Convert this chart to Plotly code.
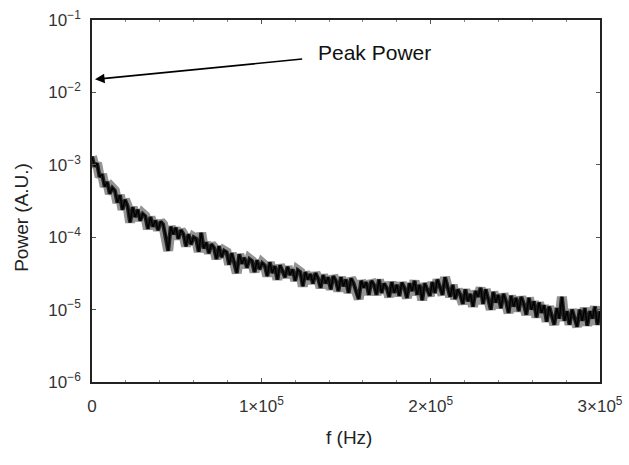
import math
import plotly.graph_objects as go

# frequency grid (Hz), step 1.5 kHz
f_step = 1500
freq = [i * f_step for i in range(201)]

# power values, in units of 1e-5 (A.U.)
power_e5 = [
    130, 95, 105, 68, 74, 50, 58, 40, 48, 44,
    30, 38, 24, 33, 27, 16, 26, 19, 24, 17,
    21, 19.5, 13, 19, 14, 17, 12.5, 16.5, 15, 10.5,
    6.5, 14, 11, 13.5, 9.5, 12.5, 11, 7.5, 11, 8,
    10, 9.5, 6.3, 11.5, 7, 8.5, 6, 8, 7.2, 5,
    7.5, 5.3, 6.5, 6.2, 4.2, 6, 4.6, 3.2, 5.8, 4.3,
    5.2, 3.8, 5, 4.7, 3.3, 4.8, 3.6, 4.4, 4.1, 2.9,
    4.5, 3.2, 4.0, 2.6, 4.1, 3.5, 2.8, 3.9, 3.0, 3.6,
    2.5, 3.5, 3.3, 2.1, 3.3, 2.6, 3.1, 2.3, 3.2, 2.7,
    2.0, 3.0, 2.3, 2.8, 1.9, 2.9, 2.5, 1.8, 2.8, 2.1,
    2.6, 1.7, 2.7, 2.3, 1.75, 1.4, 2.5, 2.0, 2.4, 1.6,
    2.5, 2.2, 1.6, 2.6, 1.7, 2.3, 2.0, 1.5, 2.4, 1.7,
    2.2, 1.55, 2.35, 2.0, 1.45, 2.3, 1.8, 2.5, 1.6, 2.2,
    1.35, 2.3, 1.9, 1.55, 2.4, 1.7, 2.6, 2.0, 1.6, 2.8,
    2.1, 1.5, 2.2, 1.4, 1.9, 1.6, 1.2, 1.9, 1.3, 1.65,
    1.1, 1.8, 1.5, 2.0, 1.2, 1.9, 1.4, 1.0, 1.75, 1.25,
    1.6, 1.05, 1.65, 1.3, 0.9, 1.55, 1.1, 1.45, 0.95, 1.5,
    1.2, 0.85, 1.45, 1.0, 1.3, 0.78, 1.25, 0.9, 1.15, 0.68,
    1.1, 0.8, 0.62, 1.05, 0.75, 1.5, 0.7, 0.95, 0.62, 1.0,
    0.78, 0.58, 1.0, 0.7, 1.05, 0.6, 0.95, 0.75, 1.1, 0.62,
    0.95,
]
power = [p * 1e-5 for p in power_e5]

y_tickvals = [1e-6, 1e-5, 1e-4, 1e-3, 1e-2, 1e-1]
y_ticktext = ["10<sup>−6</sup>", "10<sup>−5</sup>", "10<sup>−4</sup>",
              "10<sup>−3</sup>", "10<sup>−2</sup>", "10<sup>−1</sup>"]
x_tickvals = [0, 1e5, 2e5, 3e5]
x_ticktext = ["0", "1×10<sup>5</sup>", "2×10<sup>5</sup>", "3×10<sup>5</sup>"]

peak_f = 0
peak_p = 1.5e-2
label_f = 1.25e5
label_p = 2.9e-2

FONT = "Liberation Sans, Arial"

fig = go.Figure()
fig.add_trace(go.Scatter(x=freq, y=power, mode="lines",
                         line=dict(color="rgba(60,60,60,0.55)", width=10),
                         hoverinfo="skip", showlegend=False))
fig.add_trace(go.Scatter(x=freq, y=power, mode="lines",
                         line=dict(color="rgba(20,20,20,0.9)", width=4),
                         hoverinfo="skip", showlegend=False))
fig.add_trace(go.Scatter(x=freq, y=power, mode="lines",
                         line=dict(color="black", width=1.3),
                         showlegend=False))

fig.add_annotation(x=peak_f, y=math.log10(peak_p), xref="x", yref="y",
                   ax=label_f, ay=math.log10(label_p), axref="x", ayref="y",
                   text="", showarrow=True, arrowhead=2, arrowsize=1.2,
                   arrowwidth=1.6, arrowcolor="black", standoff=3)
fig.add_annotation(x=label_f, y=math.log10(label_p), xref="x", yref="y",
                   text="Peak Power", showarrow=False, xanchor="left",
                   xshift=12, yshift=6,
                   font=dict(size=21, color="#111", family=FONT))

# axis titles
fig.add_annotation(x=-0.138, y=0.456, xref="paper", yref="paper",
                   xanchor="center", yanchor="middle",
                   text="Power (A.U.)", textangle=-90, showarrow=False,
                   font=dict(size=19, color="#222", family=FONT))
fig.add_annotation(x=0.506, y=-0.152, xref="paper", yref="paper",
                   xanchor="center", yanchor="middle",
                   text="f (Hz)", showarrow=False,
                   font=dict(size=19, color="#222", family=FONT))

axis_common = dict(showline=True, linecolor="#222", linewidth=1.5, mirror="allticks",
                   ticks="inside", ticklen=4, tickcolor="#555", showgrid=False,
                   zeroline=False, automargin=False,
                   tickfont=dict(size=17, color="#333", family=FONT))

fig.update_xaxes(range=[0, 3e5], tickvals=x_tickvals, ticktext=x_ticktext,
                 minor=dict(ticks="inside", ticklen=2, dtick=2e4, tickcolor="#888"),
                 ticklabelstandoff=8, **axis_common)
fig.update_yaxes(type="log", range=[-6, -1], tickvals=y_tickvals, ticktext=y_ticktext,
                 ticklabelstandoff=6, **axis_common)

fig.update_layout(width=629, height=465, margin=dict(l=92, r=29, t=20, b=83, autoexpand=False),
                  plot_bgcolor="white", paper_bgcolor="white")

fig.write_html("out.html")
